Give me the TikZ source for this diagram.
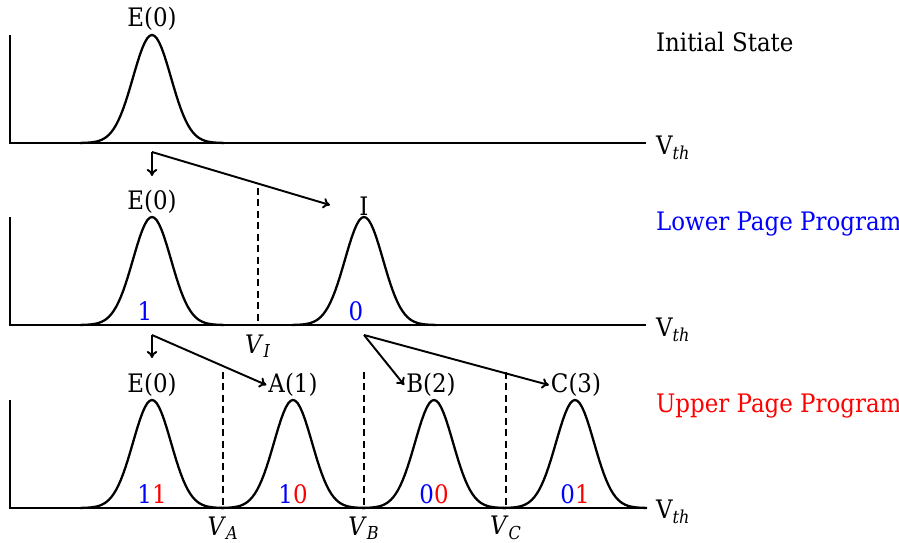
\documentclass[tikz,border=0pt]{standalone}
\usepackage{fontspec}
\setmainfont{DejaVu Serif}[FakeStretch=0.9]
\usetikzlibrary{arrows.meta}
\definecolor{lpblue}{RGB}{0,0,255}
\definecolor{uppred}{RGB}{255,0,0}
\newcommand{\bump}[2]{\draw[curve] plot[domain=-72:72, samples=61] ({#1+\x}, {#2-108*exp(-(\x)^2/722)});}

\begin{document}
\begin{tikzpicture}[x=0.02cm, y=-0.02cm,
  axis/.style={line width=0.8pt},
  curve/.style={line width=1.3pt},
  vref/.style={line width=1pt, dash pattern=on 4pt off 2.5pt},
  arr/.style={-{To[length=4pt,width=6pt]}, line width=1.1pt},
  lbl/.style={font=\fontsize{14.5}{16}\selectfont, inner sep=1pt}
]
  \useasboundingbox (0,0) rectangle (899,542);
  % axes
  \foreach \b/\t in {143/35, 325/217, 508/400}
    \draw[axis] (10,\t) -- (10,\b) -- (646,\b);
  \node[lbl, anchor=west] (vth1) at (654,148) {V\textsubscript{\textit{th}}};
  \node[lbl, anchor=west] (vth2) at (654,330) {V\textsubscript{\textit{th}}};
  \node[lbl, anchor=west] (vth3) at (654,512) {V\textsubscript{\textit{th}}};

  % initial state
  \bump{152}{143}
  \node[lbl] (e0a) at (152,19) {E(0)};
  \node[lbl, anchor=west] (init) at (654,42) {Initial State};

  % lower page
  \bump{152}{325}
  \bump{364}{325}
  \draw[vref] (258,188) -- (258,325);
  \node[lbl] (e0b) at (152,202) {E(0)};
  \node[lbl] (lI) at (364,206) {I};
  \node[lbl] (vI) at (258,346) {\textit{V}\textsubscript{\textit{I}}};
  \node[lbl, text=lpblue] (b1) at (145,311) {1};
  \node[lbl, text=lpblue] (b0) at (356,311) {0};
  \node[lbl, anchor=west, text=lpblue] (lpp) at (654,224) {Lower Page Program};

  % upper page
  \foreach \c in {152,293,434,575}{
    \bump{\c}{508}
  }
  \foreach \v/\lv in {223/A, 364/B, 506/C}{
    \draw[vref] (\v,372) -- (\v,508);
    \node[lbl] (v\lv) at (\v,528) {\textit{V}\textsubscript{\textit{\lv}}};
  }
  \node[lbl] (e0c) at (152,385) {E(0)};
  \node[lbl] (lA) at (293,385) {A(1)};
  \node[lbl] (lB) at (431,385) {B(2)};
  \node[lbl] (lC) at (576,385) {C(3)};
  \node[lbl] (b11) at (152,494) {\textcolor{lpblue}{1}\textcolor{uppred}{1}};
  \node[lbl] (b10) at (293,494) {\textcolor{lpblue}{1}\textcolor{uppred}{0}};
  \node[lbl] (b00) at (434,494) {\textcolor{lpblue}{0}\textcolor{uppred}{0}};
  \node[lbl] (b01) at (575,494) {\textcolor{lpblue}{0}\textcolor{uppred}{1}};
  \node[lbl, anchor=west, text=uppred] (upp) at (654,406) {Upper Page Program};

  % transitions
  \coordinate (s1) at (152,152);
  \coordinate (d1) at (152,176);
  \coordinate (tI) at (330,205);
  \coordinate (s2) at (152,335);
  \coordinate (d2) at (152,358);
  \coordinate (s3) at (364,335);
  \draw[arr] (s1) -- (d1);
  \draw[arr] (s1) -- (tI);
  \draw[arr] (s2) -- (d2);
  \draw[arr] (s2) -- (lA.west);
  \draw[arr] (s3) -- (lB.west);
  \draw[arr] (s3) -- (lC.west);
\end{tikzpicture}
\end{document}
